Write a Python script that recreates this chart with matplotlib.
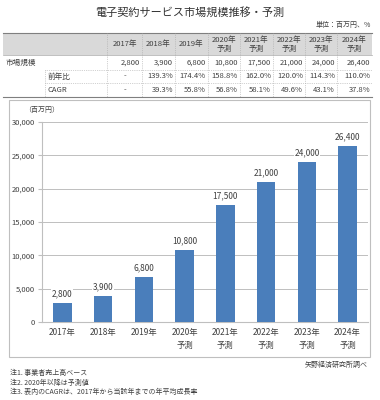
import matplotlib.pyplot as plt
from matplotlib.patches import Rectangle
from matplotlib.lines import Line2D

plt.rcParams['font.family'] = ['Noto Sans CJK JP', 'DejaVu Sans']

years = ['2017年', '2018年', '2019年', '2020年', '2021年', '2022年', '2023年', '2024年']
forecast = ['', '', '', '予測', '予測', '予測', '予測', '予測']
market = [2800, 3900, 6800, 10800, 17500, 21000, 24000, 26400]
yoy = ['-', '139.3%', '174.4%', '158.8%', '162.0%', '120.0%', '114.3%', '110.0%']
cagr = ['-', '39.3%', '55.8%', '56.8%', '58.1%', '49.6%', '43.1%', '37.8%']
notes = ['注1. 事業者売上高ベース',
         '注2. 2020年以降は予測値',
         '注3. 表内のCAGRは、2017年から当該年までの年平均成長率']

W, H = 380, 400
fig = plt.figure(figsize=(3.8, 4.0), dpi=100)


def fx(x):
    return x / W


def fy(y):
    return 1 - y / H


def hline(x0, x1, y, **kw):
    fig.add_artist(Line2D([fx(x0), fx(x1)], [fy(y), fy(y)], transform=fig.transFigure, **kw))


def vline(x, y0, y1, **kw):
    fig.add_artist(Line2D([fx(x), fx(x)], [fy(y0), fy(y1)], transform=fig.transFigure, **kw))


txt_color = '#404040'
fig.text(fx(190), fy(12), '電子契約サービス市場規模推移・予測', ha='center', va='center',
         fontsize=8, color='#333333')
fig.text(fx(371), fy(25), '単位：百万円、%', ha='right', va='center', fontsize=5, color=txt_color)

# table
cols = [107, 142, 175, 208, 240, 273, 305, 337, 372]
fig.add_artist(Rectangle((fx(3), fy(55)), fx(369), 22 / H, transform=fig.transFigure,
                         facecolor='#d9d9d9', edgecolor='none'))
hline(3, 372, 33, color='#7f7f7f', lw=0.8)
hline(3, 372, 55, color='#a6a6a6', lw=0.5)
hline(45, 372, 70, color='#a6a6a6', lw=0.5, ls=':')
hline(45, 372, 83, color='#a6a6a6', lw=0.5, ls=':')
hline(3, 372, 97, color='#7f7f7f', lw=0.8)
vline(45, 70, 97, color='#a6a6a6', lw=0.5, ls=':')
for c in cols[:-1]:
    vline(c, 33, 97, color='#a6a6a6', lw=0.5, ls=':')

for i, yr in enumerate(years):
    cx = (cols[i] + cols[i + 1]) / 2
    if forecast[i]:
        fig.text(fx(cx), fy(40), yr, ha='center', va='center', fontsize=5.5, color=txt_color)
        fig.text(fx(cx), fy(49), forecast[i], ha='center', va='center', fontsize=5.5, color=txt_color)
    else:
        fig.text(fx(cx), fy(44), yr, ha='center', va='center', fontsize=5.5, color=txt_color)
    rx = cols[i + 1] - 2
    fig.text(fx(rx), fy(62.5), f'{market[i]:,}', ha='right', va='center', fontsize=5.5, color=txt_color)
    if yoy[i] == '-':
        fig.text(fx(cx), fy(76.5), yoy[i], ha='center', va='center', fontsize=5.5, color=txt_color)
        fig.text(fx(cx), fy(90), cagr[i], ha='center', va='center', fontsize=5.5, color=txt_color)
    else:
        fig.text(fx(rx), fy(76.5), yoy[i], ha='right', va='center', fontsize=5.5, color=txt_color)
        fig.text(fx(rx), fy(90), cagr[i], ha='right', va='center', fontsize=5.5, color=txt_color)

fig.text(fx(6), fy(62.5), '市場規模', ha='left', va='center', fontsize=5.5, color=txt_color)
fig.text(fx(48), fy(76.5), '前年比', ha='left', va='center', fontsize=5.5, color=txt_color)
fig.text(fx(48), fy(90), 'CAGR', ha='left', va='center', fontsize=5.5, color=txt_color)

# chart box
fig.add_artist(Rectangle((fx(9), fy(357)), fx(361), 257 / H, transform=fig.transFigure,
                         facecolor='none', edgecolor='#bfbfbf', lw=0.8))

ax = fig.add_axes([fx(42), fy(322), fx(326), 200 / H])
x = range(len(years))
bars = ax.bar(x, market, width=0.45, color='#4a7ebb', zorder=3)
for xi, v in zip(x, market):
    ax.text(xi, v + 700, f'{v:,}', ha='center', va='bottom', fontsize=6, color=txt_color,
            bbox=dict(facecolor='white', edgecolor='none', pad=0.5), zorder=4)
ax.set_xlim(-0.5, 7.5)
ax.set_ylim(0, 30000)
ax.set_yticks(range(0, 30001, 5000))
ax.set_yticklabels([f'{t:,}' for t in range(0, 30001, 5000)], fontsize=5.5, color=txt_color)
ax.set_xticks(list(x))
ax.set_xticklabels([f'{y}\n{f}' for y, f in zip(years, forecast)], fontsize=6,
                   color=txt_color, va='top', linespacing=1.6)
ax.grid(axis='y', color='#bfbfbf', lw=0.7, zorder=0)
for s in ['top', 'right']:
    ax.spines[s].set_visible(False)
ax.spines['left'].set_color('#bfbfbf')
ax.spines['bottom'].set_color('#bfbfbf')
ax.tick_params(axis='y', length=3, color='#bfbfbf', pad=2)
ax.tick_params(axis='x', length=0, pad=4)
fig.text(fx(42), fy(110), '（百万円）', ha='center', va='center', fontsize=5, color=txt_color)

fig.text(fx(368), fy(365), '矢野経済研究所調べ', ha='right', va='center', fontsize=5, color=txt_color)
for i, n in enumerate(notes):
    fig.text(fx(10), fy(373 + 9.5 * i), n, ha='left', va='center', fontsize=5, color=txt_color)

fig.savefig('out.png', dpi=100, facecolor='white')
